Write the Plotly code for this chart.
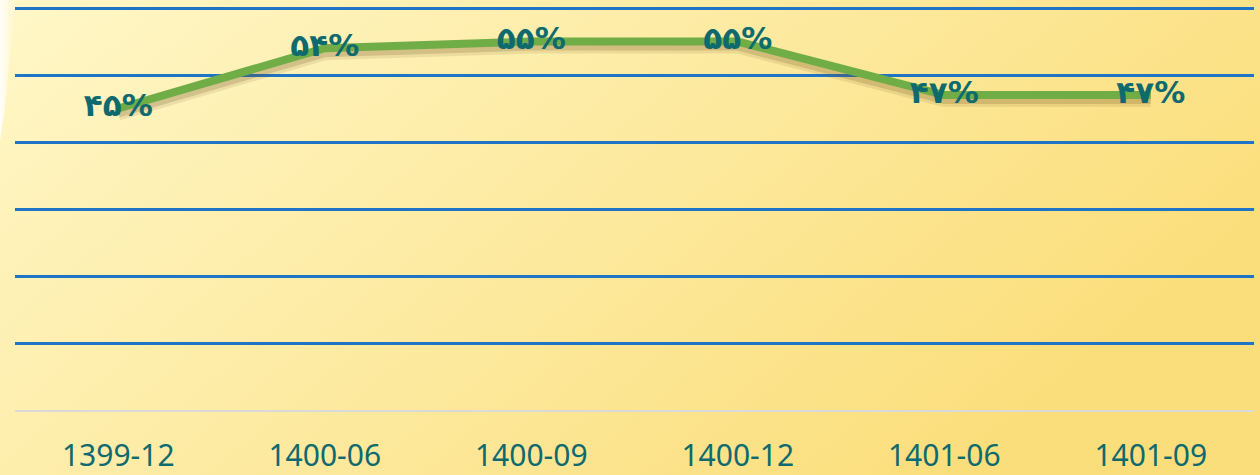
import base64
import plotly.graph_objects as go

categories = ["1399-12", "1400-06", "1400-09", "1400-12", "1401-06", "1401-09"]
values = [45, 54, 55, 55, 47, 47]
grid_ticks = [10, 20, 30, 40, 50, 60]

fa_digits = str.maketrans("0123456789", "۰۱۲۳۴۵۶۷۸۹")
labels = [str(v).translate(fa_digits) + "%" for v in values]

W, H = 1260, 475
ML, MR, MT, MB = 15, 6, 6, 65
PW, PH = W - ML - MR, H - MT - MB
YMAX = 60.3

svg = f'''<svg xmlns="http://www.w3.org/2000/svg" width="{W}" height="{H}" viewBox="0 0 {W} {H}" preserveAspectRatio="none">
<defs>
<linearGradient id="g" x1="0" y1="0" x2="1" y2="0.45">
<stop offset="0" stop-color="#fff7c8"/>
<stop offset="0.5" stop-color="#fdeba3"/>
<stop offset="1" stop-color="#fbde7c"/>
</linearGradient>
<linearGradient id="w" x1="0" y1="0" x2="1" y2="0">
<stop offset="0" stop-color="#ffffff" stop-opacity="0.9"/>
<stop offset="1" stop-color="#ffffff" stop-opacity="0"/>
</linearGradient>
</defs>
<rect x="0" y="0" width="{W}" height="{H}" fill="url(#g)"/>
<path d="M0,0 L16,0 C11,40 8,80 4,115 L0,140 Z" fill="url(#w)"/>
</svg>'''
src = "data:image/svg+xml;base64," + base64.b64encode(svg.encode()).decode()

teal = "#0e6a6e"
fig = go.Figure()

# invisible anchor trace on the base axis (keeps base subplot and its grid active)
fig.add_trace(go.Scatter(x=categories, y=values, mode="lines",
                         line=dict(color="rgba(0,0,0,0)", width=1),
                         hoverinfo="skip", showlegend=False))

layout_axes = {}
# soft shadow under the line (drawn on slightly shifted overlay axes)
shadows = [(15, 0.12, 4.5), (11, 0.20, 3.5)]
for i, (w, op, shift) in enumerate(shadows):
    d = shift / (PH / YMAX)
    n = i + 2
    fig.add_trace(go.Scatter(x=categories, y=values, mode="lines",
                             line=dict(color=f"rgba(110,80,35,{op})", width=w),
                             yaxis=f"y{n}", hoverinfo="skip", showlegend=False))
    layout_axes[f"yaxis{n}"] = dict(overlaying="y", range=[d, YMAX + d],
                                    visible=False, fixedrange=True)

top_n = len(shadows) + 2
fig.add_trace(go.Scatter(x=categories, y=values, mode="lines",
                         line=dict(color="#70ad47", width=8), yaxis=f"y{top_n}",
                         showlegend=False))
fig.add_trace(go.Scatter(x=categories, y=values, mode="text", text=labels,
                         textposition="middle center", yaxis=f"y{top_n}",
                         textfont=dict(family="DejaVu Sans", size=31, color=teal, weight="bold"),
                         showlegend=False, hoverinfo="skip"))
layout_axes[f"yaxis{top_n}"] = dict(overlaying="y", range=[0, YMAX], visible=False,
                                    fixedrange=True)

fig.update_layout(
    width=W, height=H,
    margin=dict(l=ML, r=MR, t=MT, b=MB, autoexpand=False),
    paper_bgcolor="#fdeca2",
    plot_bgcolor="rgba(0,0,0,0)",
    images=[dict(source=src, xref="paper", yref="paper",
                 x=-ML / PW, y=1 + MT / PH, sizex=W / PW, sizey=H / PH,
                 xanchor="left", yanchor="top", sizing="stretch", layer="below")],
    xaxis=dict(type="category", range=[-0.5, 5.5], showgrid=False, zeroline=False,
               automargin=False,
               showline=True, linecolor="#d9d9d9", linewidth=2,
               ticks="outside", ticklen=18, tickcolor="rgba(0,0,0,0)",
               tickfont=dict(family="Noto Sans", size=30, color=teal)),
    yaxis=dict(range=[0, YMAX], tickvals=grid_ticks, showticklabels=False,
               automargin=False,
               showgrid=True, gridcolor="#1f74c6", gridwidth=2.5, zeroline=False,
               showline=False),
    showlegend=False,
    **layout_axes,
)

fig.write_html("out.html", config={"displayModeBar": False},
               post_script="document.body.style.margin='0';document.body.style.overflow='hidden';")
